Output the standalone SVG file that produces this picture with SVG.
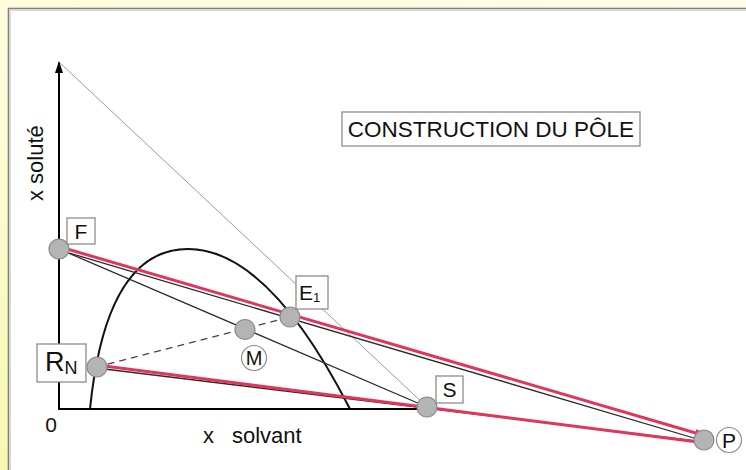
<svg xmlns="http://www.w3.org/2000/svg" width="746" height="470" viewBox="0 0 746 470">
<defs>
<linearGradient id="bg" x1="1" y1="0" x2="0" y2="1">
<stop offset="0" stop-color="#fffde8"/>
<stop offset="0.6" stop-color="#fefcd8"/>
<stop offset="1" stop-color="#f8f7b0"/>
</linearGradient>
<marker id="redArrow" viewBox="0 0 12 8" refX="11" refY="4" markerWidth="12" markerHeight="8" markerUnits="userSpaceOnUse" orient="auto">
<path d="M0,0 L12,4 L0,8 Z" fill="#e3355c"/>
</marker>
<marker id="axArrow" viewBox="0 0 8 12" refX="4" refY="1" markerWidth="8" markerHeight="12" markerUnits="userSpaceOnUse" orient="0">
<path d="M4,0 L8,12 L0,12 Z" fill="#000"/>
</marker>
</defs>
<style>
.pt{fill:#b4b4b4;stroke:#8a8a8a;stroke-width:1.2}
.box{fill:#fff;stroke:#8c8c8c;stroke-width:1.3}
.ring{fill:#fff;stroke:#8c8c8c;stroke-width:1.2}
.t{font-family:"Liberation Sans",Arial,Helvetica,sans-serif;fill:#111}
.blk{stroke:#2a2a2a;stroke-width:1.3;fill:none}
.red{stroke:#e3355c;stroke-width:3;fill:none}
</style>
<rect x="0" y="0" width="746" height="470" fill="url(#bg)"/>
<rect x="8.5" y="8.5" width="740" height="465" fill="#fff" stroke="#7e7e7e" stroke-width="1.6"/>
<line x1="10.5" y1="10.5" x2="746" y2="10.5" stroke="#d8d8d8" stroke-width="1"/>
<line x1="10.5" y1="10.5" x2="10.5" y2="470" stroke="#d8d8d8" stroke-width="1"/>

<g id="axes">
<line x1="59" y1="409" x2="59" y2="62" stroke="#000" stroke-width="2" marker-end="url(#axArrow)"/>
<line x1="58" y1="409" x2="427" y2="409" stroke="#000" stroke-width="2"/>
<text class="t" x="51" y="432" font-size="21" text-anchor="middle">0</text>
<text class="t" x="203" y="443" font-size="22">x</text>
<text class="t" x="232" y="443" font-size="22">solvant</text>
<text class="t" font-size="22" transform="translate(43,201) rotate(-90)">x soluté</text>
</g>

<g id="binodal">
<path d="M90,409 C100,310 130,249 188,249 Q268,249 350,409" fill="none" stroke="#111" stroke-width="2"/>
</g>

<g id="connectors">
<line x1="59" y1="62" x2="427" y2="407" stroke="#9a9a9a" stroke-width="1"/>
<line class="blk" x1="59" y1="249" x2="427" y2="407"/>
<line class="blk" x1="59" y1="250" x2="704" y2="441"/>
<line class="blk" x1="96" y1="368" x2="704" y2="442"/>
<line x1="96" y1="367" x2="290" y2="317" stroke="#444" stroke-width="1.3" stroke-dasharray="7,5"/>
<line class="red" x1="62" y1="247.5" x2="706" y2="436" marker-end="url(#redArrow)"/>
<line class="red" x1="100" y1="365.5" x2="706" y2="443" marker-end="url(#redArrow)"/>
</g>

<g id="F">
<circle class="pt" cx="59" cy="249" r="10"/>
<rect class="box" x="67" y="218" width="28" height="26"/>
<text class="t" x="81" y="239" font-size="21" text-anchor="middle">F</text>
</g>

<g id="RN">
<circle class="pt" cx="97" cy="367" r="10"/>
<rect class="box" x="37" y="344" width="49" height="38"/>
<text class="t" x="45" y="371" font-size="27">R<tspan font-size="18" dy="3">N</tspan></text>
</g>

<g id="E1">
<circle class="pt" cx="290" cy="317" r="10"/>
<rect class="box" x="296" y="276" width="32" height="33"/>
<text class="t" x="299" y="299.5" font-size="21">E<tspan font-size="13" dy="2">1</tspan></text>
</g>

<g id="M">
<circle class="pt" cx="245" cy="329.5" r="10"/>
<circle class="ring" cx="254" cy="358" r="12.5"/>
<text class="t" x="254" y="365" font-size="20" text-anchor="middle">M</text>
</g>

<g id="S">
<circle class="pt" cx="427" cy="407" r="10"/>
<rect class="box" x="436" y="376" width="27" height="27"/>
<text class="t" x="449.5" y="397" font-size="21" text-anchor="middle">S</text>
</g>

<g id="P">
<circle class="pt" cx="704" cy="440" r="10"/>
<circle class="ring" cx="729" cy="440" r="12.5"/>
<text class="t" x="729" y="447.5" font-size="21" text-anchor="middle">P</text>
</g>

<g id="title">
<rect class="box" x="342" y="112" width="298" height="34"/>
<text class="t" x="491" y="136.5" font-size="22.5" text-anchor="middle">CONSTRUCTION DU PÔLE</text>
</g>
</svg>
